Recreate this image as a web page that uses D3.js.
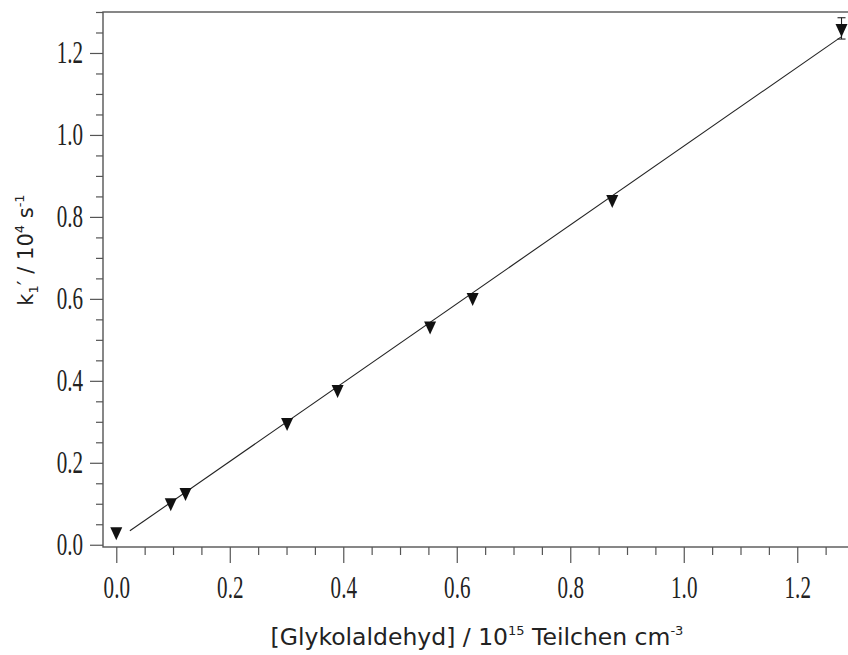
<!DOCTYPE html>
<html>
<head>
<meta charset="utf-8">
<script src="https://cdn.jsdelivr.net/npm/d3@7"></script>
<style>
  html, body { margin: 0; padding: 0; background: #fff; }
  svg { display: block; }
  .tick-label { font-family: "Liberation Serif", "Times New Roman", serif; font-size: 31px; fill: #222; }
  .axis-title { font-family: "DejaVu Sans", sans-serif; fill: #222; }
</style>
</head>
<body>
<svg id="chart" width="848" height="655"></svg>
<script>
// Measured glycolaldehyde concentration (10^15 molecules cm^-3) and pseudo-first-order rate k1' (10^4 s^-1)
const concentration = [0.000, 0.096, 0.122, 0.301, 0.390, 0.553, 0.628, 0.874, 1.278];
const rateConstant  = [0.032, 0.103, 0.128, 0.299, 0.379, 0.534, 0.604, 0.843, 1.260];
// Error bar shown on the highest-concentration measurement
const errorIndex = [8];
const errorSize  = [0.026];
// Linear fit, drawn between its two end points
const fitX = [0.024, 1.278];
const fitY = [0.034, 1.240];
// Axis ticks
const xMajorTicks = [0.0, 0.2, 0.4, 0.6, 0.8, 1.0, 1.2];
const yMajorTicks = [0.0, 0.2, 0.4, 0.6, 0.8, 1.0, 1.2];
const minorTicks  = d3.range(0, 1.3001, 0.05).map(v => +v.toFixed(2));

const svg = d3.select("#chart");
const plot = { left: 103, right: 854, top: 12, bottom: 547 };

const x = d3.scaleLinear().domain([-0.0234, 1.3]).range([plot.left, plot.right]);
const y = d3.scaleLinear().domain([-0.0055, 1.3]).range([plot.bottom, plot.top]);

const axisColor = "#555";

// Frame
svg.append("rect")
  .attr("x", plot.left).attr("y", plot.top)
  .attr("width", plot.right - plot.left).attr("height", plot.bottom - plot.top)
  .attr("fill", "none").attr("stroke", axisColor).attr("stroke-width", 1.4);

// X axis: minor then major ticks, pointing down
const xMinor = svg.append("g").attr("transform", `translate(0,${plot.bottom})`)
  .call(d3.axisBottom(x).tickValues(minorTicks.filter(v => !xMajorTicks.includes(v))).tickSize(8).tickFormat(""));
const xMajor = svg.append("g").attr("transform", `translate(0,${plot.bottom})`)
  .call(d3.axisBottom(x).tickValues(xMajorTicks).tickSize(16).tickFormat(d3.format(".1f")));
[xMinor, xMajor].forEach(g => {
  g.select(".domain").remove();
  g.selectAll("line").attr("stroke", axisColor).attr("stroke-width", 1.2);
});
xMajor.selectAll("text")
  .attr("class", "tick-label")
  .attr("y", null).attr("dy", null)
  .attr("fill", null)
  .attr("text-anchor", "middle")
  .attr("transform", "translate(0,51) scale(0.68,1)");
xMajor.attr("font-family", null).attr("font-size", null);

// Y axis: minor then major ticks, pointing left
const yMinor = svg.append("g").attr("transform", `translate(${plot.left},0)`)
  .call(d3.axisLeft(y).tickValues(minorTicks.filter(v => !yMajorTicks.includes(v))).tickSize(7).tickFormat(""));
const yMajor = svg.append("g").attr("transform", `translate(${plot.left},0)`)
  .call(d3.axisLeft(y).tickValues(yMajorTicks).tickSize(13).tickFormat(d3.format(".1f")));
[yMinor, yMajor].forEach(g => {
  g.select(".domain").remove();
  g.selectAll("line").attr("stroke", axisColor).attr("stroke-width", 1.2);
});
yMajor.selectAll("text")
  .attr("class", "tick-label")
  .attr("x", null).attr("dy", null)
  .attr("fill", null)
  .attr("text-anchor", "end")
  .attr("transform", "translate(-20,10) scale(0.68,1)");
yMajor.attr("font-family", null).attr("font-size", null);

// Fit line
svg.append("line")
  .attr("x1", x(fitX[0])).attr("y1", y(fitY[0]))
  .attr("x2", x(fitX[1])).attr("y2", y(fitY[1]))
  .attr("stroke", "#222").attr("stroke-width", 1.1);

// Error bars
errorIndex.forEach((i, k) => {
  const cx = x(concentration[i]);
  const y0 = y(rateConstant[i] - errorSize[k]);
  const y1 = y(rateConstant[i] + errorSize[k]);
  const g = svg.append("g").attr("stroke", "#222").attr("stroke-width", 1.1);
  g.append("line").attr("x1", cx).attr("x2", cx).attr("y1", y0).attr("y2", y1);
  g.append("line").attr("x1", cx - 4).attr("x2", cx + 4).attr("y1", y0).attr("y2", y0);
  g.append("line").attr("x1", cx - 4).attr("x2", cx + 4).attr("y1", y1).attr("y2", y1);
});

// Downward triangle markers, centred on their centroid
const triW = 12, triH = 13;
const triPath = `M${-triW / 2},${-triH / 3}L${triW / 2},${-triH / 3}L0,${2 * triH / 3}Z`;
svg.append("g").selectAll("path")
  .data(concentration.map((c, i) => [c, rateConstant[i]]))
  .join("path")
  .attr("d", triPath)
  .attr("transform", d => `translate(${x(d[0])},${y(d[1])})`)
  .attr("fill", "#111");

// X axis title
const xt = svg.append("text").attr("class", "axis-title")
  .attr("x", 477).attr("y", 645).attr("text-anchor", "middle")
  .style("font-size", "23.5px");
xt.append("tspan").text("[Glykolaldehyd] / 10");
xt.append("tspan").attr("dy", -10).style("font-size", "13px").text("15");
xt.append("tspan").attr("dy", 10).text(" Teilchen cm");
xt.append("tspan").attr("dy", -10).style("font-size", "13px").text("-3");

// Y axis title
const yt = svg.append("text").attr("class", "axis-title")
  .attr("transform", "translate(33,250) rotate(-90)").attr("text-anchor", "middle")
  .style("font-size", "21px");
yt.append("tspan").text("k");
yt.append("tspan").attr("dy", 5).style("font-size", "13px").text("1");
yt.append("tspan").attr("dy", -5).text("′ / 10");
yt.append("tspan").attr("dy", -9).style("font-size", "13px").text("4");
yt.append("tspan").attr("dy", 9).text(" s");
yt.append("tspan").attr("dy", -9).style("font-size", "13px").text("-1");
</script>
</body>
</html>
